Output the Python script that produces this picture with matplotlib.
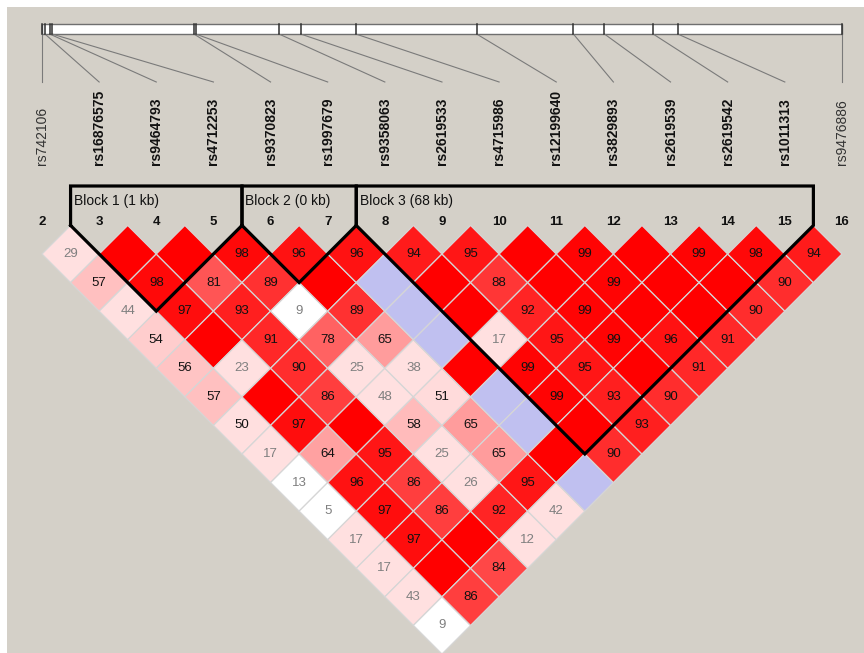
import matplotlib
matplotlib.use('Agg')
import matplotlib.pyplot as plt
from matplotlib.patches import Polygon, Rectangle

plt.rcParams['font.family'] = ['Liberation Sans', 'DejaVu Sans']

# ---------------- data ----------------
marker_ids = list(range(2, 17))
marker_names = ['rs742106', 'rs16876575', 'rs9464793', 'rs4712253', 'rs9370823',
                'rs1997679', 'rs9358063', 'rs2619533', 'rs4715986', 'rs12199640',
                'rs3829893', 'rs2619539', 'rs2619542', 'rs1011313', 'rs9476886']
marker_bold = [False] + [True] * 13 + [False]
positions_kb = [0.0, 0.5, 1.3, 1.7, 25.9, 26.2, 40.4, 44.1, 53.5, 74.1,
                90.6, 95.9, 104.2, 108.4, 136.4]

# D' (x100) of marker i with markers i+1 .. 16
dp_02 = [29, 57, 44, 54, 56, 57, 50, 17, 13, 5, 17, 17, 43, 9]
dp_03 = [100, 98, 97, 100, 23, 100, 97, 64, 96, 97, 97, 100, 86]
dp_04 = [100, 81, 93, 91, 90, 86, 100, 95, 86, 86, 100, 84]
dp_05 = [98, 89, 9, 78, 25, 48, 58, 25, 26, 92, 12]
dp_06 = [96, 100, 89, 65, 38, 51, 65, 65, 95, 42]
dp_07 = [96, 100, 100, 100, 100, 100, 100, 100, 100]
dp_08 = [94, 100, 100, 17, 99, 99, 100, 90]
dp_09 = [95, 88, 92, 95, 95, 93, 93]
dp_10 = [100, 100, 99, 99, 100, 90]
dp_11 = [99, 99, 100, 96, 91]
dp_12 = [100, 100, 100, 91]
dp_13 = [99, 100, 90]
dp_14 = [98, 90]
dp_15 = [94]
dprime_rows = [dp_02, dp_03, dp_04, dp_05, dp_06, dp_07, dp_08, dp_09,
               dp_10, dp_11, dp_12, dp_13, dp_14, dp_15]

# pairs with LOD < 2
low_lod_pairs = [(2, 11), (2, 12), (2, 16), (5, 8), (7, 9), (7, 10),
                 (7, 11), (7, 13), (7, 14), (7, 16)]

block_names = ['Block 1 (1 kb)', 'Block 2 (0 kb)', 'Block 3 (68 kb)']
block_start = [3, 6, 8]
block_end = [5, 7, 15]

# ---------------- layout ----------------
W, H = 864, 653
U = 57.14          # pixels per marker step
PX0, PY0 = 42, 254  # pixel of marker 2 / first row centre


def px2x(px):
    return 2 + (px - PX0) / U


def py2y(py):
    return (py - PY0) / U


BG = '#D4D0C8'
fig = plt.figure(figsize=(W / 100, H / 100), dpi=100, facecolor='white')
ax = fig.add_axes([7 / W, 0, (W - 7) / W, (H - 7) / H])
ax.set_facecolor(BG)
ax.set_xlim(px2x(7), px2x(W))
ax.set_ylim(py2y(H), py2y(7))
ax.axis('off')
ax.add_patch(Rectangle((0, 0), 1, 1, transform=ax.transAxes, facecolor=BG,
                       edgecolor='none', zorder=0))


def cell_color(d, low):
    if low:
        return (192 / 255, 192 / 255, 240 / 255) if d >= 100 else (1, 1, 1)
    if d >= 100:
        return (1, 0, 0)
    if d < 50:
        return (1, 224 / 255, 224 / 255)
    blgr = (255 - 32) * 2 * (1 - d / 100.0)
    return (1, blgr / 255, blgr / 255)


for i, row in zip(marker_ids[:-1], dprime_rows):
    for k, d in enumerate(row):
        j = i + 1 + k
        cx = (i + j) / 2
        cy = (j - i - 1) / 2
        low = (i, j) in low_lod_pairs
        col = cell_color(d, low)
        ax.add_patch(Polygon([(cx, cy - 0.5), (cx + 0.5, cy), (cx, cy + 0.5),
                              (cx - 0.5, cy)], closed=True, facecolor=col,
                             edgecolor='#d6d6d6', lw=0.9, zorder=2))
        if d < 100:
            tc = '#7f7f7f' if d < 50 else '#111111'
            ax.text(cx, cy, str(d), ha='center', va='center', fontsize=9.5,
                    color=tc, zorder=4)

# blocks
top_y = py2y(186)
for name, a, b in zip(block_names, block_start, block_end):
    left, right = a - 0.5, b + 0.5
    apex = ((left + right) / 2, -0.5 + (right - left) / 2)
    ax.plot([left, left, right, right, apex[0], left],
            [-0.5, top_y, top_y, -0.5, apex[1], -0.5],
            color='black', lw=2.3, solid_joinstyle='miter', zorder=5)
    ax.text(left + 0.06, py2y(201), name, ha='left', va='center', fontsize=10,
            color='#111111', zorder=5)

# column numbers
for m in marker_ids:
    ax.text(m, py2y(222), str(m), ha='center', va='center', fontsize=9.5,
            fontweight='bold', color='#111111')

# physical map bar
span = positions_kb[-1] - positions_kb[0]
bar_x = [2 + (p - positions_kb[0]) / span * (marker_ids[-1] - marker_ids[0])
         for p in positions_kb]
bar_top, bar_bot = py2y(24), py2y(34)
ax.add_patch(Rectangle((bar_x[0], bar_top), bar_x[-1] - bar_x[0],
                       bar_bot - bar_top, facecolor='white',
                       edgecolor='#6f6f6f', lw=1.0, zorder=2))
for bx, m, name, bold in zip(bar_x, marker_ids, marker_names, marker_bold):
    ax.plot([bx, bx], [bar_top, bar_bot], color='#303030', lw=1.1, zorder=3)
    ax.plot([bx, m], [bar_bot, py2y(82)], color='#7a7a7a', lw=0.8, zorder=2)
    ax.text(m, py2y(165), name, rotation=90, ha='center', va='bottom',
            fontsize=10, fontweight='bold' if bold else 'normal',
            color='#111111' if bold else '#333333')

fig.savefig('out.png', dpi=100, facecolor='white')
